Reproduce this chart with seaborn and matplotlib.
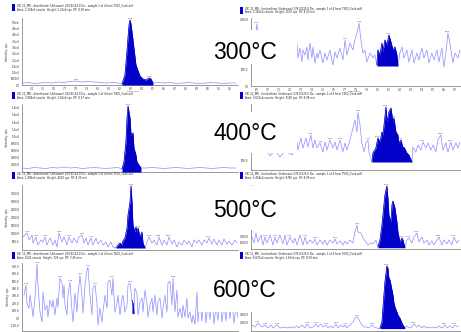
import numpy as np
import pandas as pd
import seaborn as sns
import matplotlib
matplotlib.use("Agg")
import matplotlib.pyplot as plt
from matplotlib.patches import Rectangle
from matplotlib.ticker import FuncFormatter

sns.set_theme(style="white")
plt.rcParams['font.family'] = ['DejaVu Sans']

# ---------------- data (retention time [min], intensity [cps]) ----------------
temps = ["300°C", "400°C", "500°C", "600°C"]

trace_300_left = [(7.31, 1600), (7.365, 2000), (7.419, 1200), (7.474, 1600), (7.528, 2000), (7.583, 1600),
    (7.637, 2400), (7.692, 2000), (7.746, 2800), (7.801, 3200), (7.855, 2400), (7.91, 2800), (7.965, 2400),
    (8.019, 2000), (8.074, 1600), (8.128, 2000), (8.183, 1600), (8.219, 800), (8.246, 8000), (8.265, 28000),
    (8.283, 48000), (8.292, 52000), (8.301, 48800), (8.319, 36000), (8.346, 16000), (8.383, 7200),
    (8.41, 4800), (8.437, 4000), (8.465, 5600), (8.483, 4800), (8.501, 1600), (8.546, 2000), (8.601, 1600),
    (8.655, 2000), (8.71, 1200), (8.765, 1600), (8.819, 2000), (8.874, 1600), (8.928, 1200), (8.983, 1600),
    (9.037, 2000), (9.092, 1600), (9.146, 1200), (9.201, 1600), (9.255, 1600)]

trace_300_right = [(6.859, 1200), (6.886, 1350), (6.904, 1860), (6.923, 1050), (6.95, 1260), (6.986, 1080),
    (7.023, 1320), (7.059, 990), (7.095, 1200), (7.132, 1050), (7.168, 1260), (7.204, 1080), (7.241, 1200),
    (7.268, 1290), (7.277, 840), (7.295, 1140), (7.313, 720), (7.323, 1080), (7.341, 930), (7.359, 1170),
    (7.368, 780), (7.386, 1290), (7.404, 840), (7.414, 1170), (7.432, 690), (7.45, 990), (7.459, 840),
    (7.477, 1080), (7.504, 690), (7.523, 990), (7.541, 780), (7.568, 1080), (7.595, 630), (7.614, 1020),
    (7.632, 840), (7.659, 1140), (7.686, 780), (7.705, 1380), (7.723, 930), (7.75, 1290), (7.777, 1080),
    (7.795, 1380), (7.814, 1590), (7.832, 1890), (7.85, 1380), (7.868, 990), (7.886, 1080), (7.904, 720),
    (7.932, 990), (7.959, 840), (7.977, 930), (7.995, 630), (8.004, 1080), (8.023, 930), (8.041, 1290),
    (8.05, 1020), (8.068, 1380), (8.086, 1230), (8.104, 1530), (8.123, 1320), (8.141, 1080), (8.159, 1170),
    (8.177, 930), (8.186, 600), (8.204, 990), (8.223, 1170), (8.241, 840), (8.268, 1080), (8.286, 720),
    (8.314, 1080), (8.332, 690), (8.359, 990), (8.377, 780), (8.405, 1140), (8.423, 840), (8.45, 1080),
    (8.468, 690), (8.495, 990), (8.514, 780), (8.541, 1080), (8.559, 720), (8.586, 1140), (8.604, 570),
    (8.623, 990), (8.641, 1590), (8.659, 1290), (8.686, 690), (8.705, 990), (8.732, 840), (8.75, 1080)]

trace_400_left = [(7.31, 1120), (7.365, 980), (7.419, 1260), (7.474, 1120), (7.528, 980), (7.583, 1260),
    (7.637, 1120), (7.692, 1400), (7.746, 1120), (7.801, 1260), (7.855, 980), (7.91, 1120), (7.965, 1260),
    (8.019, 1120), (8.074, 980), (8.128, 1120), (8.183, 1260), (8.219, 840), (8.237, 2800), (8.255, 8400),
    (8.265, 15120), (8.274, 18480), (8.292, 15120), (8.301, 10360), (8.319, 10920), (8.328, 6720),
    (8.346, 4760), (8.355, 2800), (8.374, 1960), (8.392, 1120), (8.437, 1120), (8.492, 1260), (8.546, 1120),
    (8.601, 980), (8.655, 1120), (8.71, 1260), (8.765, 1120), (8.819, 980), (8.874, 1120), (8.928, 1260),
    (8.983, 1120), (9.037, 980), (9.092, 1120), (9.146, 1260), (9.201, 1120), (9.255, 1120)]

trace_400_right = [(6.859, 1000), (6.895, 1200), (6.932, 1000), (6.977, 1150), (7.023, 700), (7.068, 1000),
    (7.113, 650), (7.159, 950), (7.223, 750), (7.268, 1400), (7.277, 1000), (7.304, 1600), (7.323, 1100),
    (7.35, 1600), (7.368, 1150), (7.395, 1750), (7.414, 1100), (7.432, 1500), (7.45, 1100), (7.477, 1350),
    (7.504, 900), (7.523, 1400), (7.541, 1000), (7.568, 1500), (7.595, 1100), (7.614, 1400), (7.632, 1000),
    (7.659, 1500), (7.686, 900), (7.705, 1350), (7.723, 1000), (7.75, 1500), (7.777, 2100), (7.795, 2500),
    (7.814, 1900), (7.823, 2900), (7.841, 2250), (7.859, 1350), (7.877, 900), (7.895, 1350), (7.914, 1500),
    (7.923, 900), (7.95, 400), (7.959, 850), (7.986, 1100), (8.004, 1600), (8.023, 1400), (8.041, 1900),
    (8.05, 1750), (8.068, 2650), (8.077, 3150), (8.086, 2400), (8.104, 2900), (8.123, 3100), (8.141, 2400),
    (8.15, 2600), (8.168, 1900), (8.186, 1750), (8.195, 1350), (8.214, 1500), (8.232, 1100), (8.241, 1150),
    (8.268, 850), (8.286, 750), (8.314, 400), (8.323, 1150), (8.35, 900), (8.368, 1250), (8.395, 1000),
    (8.414, 1400), (8.441, 1100), (8.459, 1350), (8.486, 1000), (8.505, 1250), (8.532, 900), (8.55, 1500),
    (8.577, 1750), (8.595, 1000), (8.623, 1350), (8.641, 900), (8.668, 1400), (8.686, 1000), (8.714, 1350),
    (8.732, 1100), (8.75, 1400)]

trace_500_left = [(7.319, 812), (7.355, 1062), (7.374, 625), (7.401, 938), (7.41, 438), (7.437, 812),
    (7.455, 312), (7.483, 625), (7.501, 500), (7.519, 812), (7.537, 312), (7.565, 750), (7.592, 312),
    (7.61, 625), (7.628, 188), (7.646, 1062), (7.674, 500), (7.692, 812), (7.719, 312), (7.737, 812),
    (7.765, 438), (7.783, 750), (7.81, 438), (7.828, 812), (7.855, 938), (7.874, 438), (7.892, 750),
    (7.91, 312), (7.937, 750), (7.955, 312), (7.983, 750), (8.001, 375), (8.028, 625), (8.046, 312),
    (8.074, 500), (8.092, 188), (8.119, 500), (8.137, 188), (8.165, 125), (8.183, 312), (8.201, 438),
    (8.219, 312), (8.228, 562), (8.246, 750), (8.265, 1375), (8.274, 2188), (8.292, 3000), (8.301, 4000),
    (8.31, 3000), (8.319, 1562), (8.337, 1125), (8.346, 1438), (8.355, 1125), (8.365, 1375), (8.383, 812),
    (8.401, 1125), (8.41, 438), (8.428, 125), (8.446, 500), (8.465, 812), (8.492, 438), (8.51, 625),
    (8.537, 312), (8.555, 812), (8.583, 312), (8.601, 625), (8.628, 312), (8.646, 812), (8.674, 375),
    (8.692, 625), (8.719, 188), (8.737, 500), (8.765, 312), (8.783, 625), (8.81, 375), (8.828, 562),
    (8.855, 188), (8.874, 625), (8.901, 438), (8.919, 625), (8.946, 312), (8.965, 625), (8.992, 438),
    (9.01, 750), (9.037, 375), (9.055, 688), (9.083, 312), (9.101, 625), (9.128, 312), (9.146, 688),
    (9.174, 375), (9.192, 562), (9.219, 312), (9.246, 625), (9.265, 438)]

trace_500_right = [(6.859, 1860), (6.877, 930), (6.895, 2480), (6.913, 1085), (6.941, 2170), (6.959, 620),
    (6.977, 1860), (6.995, 930), (7.023, 2170), (7.05, 620), (7.068, 1860), (7.086, 930), (7.113, 2170),
    (7.141, 775), (7.159, 2170), (7.177, 620), (7.204, 1860), (7.232, 930), (7.25, 1705), (7.268, 620),
    (7.295, 2170), (7.323, 620), (7.341, 1860), (7.359, 775), (7.386, 1395), (7.414, 930), (7.432, 1550),
    (7.45, 620), (7.477, 1395), (7.504, 775), (7.523, 1395), (7.541, 620), (7.568, 1395), (7.595, 930),
    (7.614, 1550), (7.632, 775), (7.659, 1240), (7.686, 620), (7.705, 1240), (7.723, 775), (7.75, 1395),
    (7.777, 930), (7.795, 2635), (7.814, 3720), (7.823, 2635), (7.85, 2480), (7.868, 1705), (7.895, 1085),
    (7.914, 620), (7.941, 930), (7.959, 775), (7.986, 1395), (8.004, 310), (8.023, 1395), (8.041, 3720),
    (8.05, 5270), (8.059, 6820), (8.068, 8370), (8.086, 9765), (8.095, 7905), (8.104, 5270), (8.123, 4185),
    (8.132, 6820), (8.141, 7440), (8.159, 6355), (8.177, 4185), (8.186, 2635), (8.204, 1085), (8.223, 1705),
    (8.232, 1395), (8.25, 155), (8.268, 1395), (8.286, 1705), (8.314, 930), (8.332, 1860), (8.359, 2480),
    (8.377, 1085), (8.405, 1860), (8.423, 930), (8.45, 1395), (8.468, 620), (8.495, 1240), (8.514, 620),
    (8.541, 1395), (8.559, 1860), (8.586, 620), (8.604, 1395), (8.632, 775), (8.65, 1395), (8.677, 620),
    (8.695, 1860), (8.723, 930), (8.741, 1395)]

trace_600_left = [(7.328, 310), (7.346, 446), (7.355, 202), (7.374, 135), (7.383, 310), (7.401, 135),
    (7.41, 14), (7.428, 270), (7.446, 729), (7.455, 446), (7.474, 81), (7.492, -54), (7.501, 351),
    (7.519, 108), (7.537, 176), (7.546, 14), (7.565, 243), (7.583, 149), (7.592, 243), (7.61, 41),
    (7.628, 270), (7.637, 149), (7.655, 540), (7.674, 472), (7.683, 270), (7.692, 446), (7.701, 176),
    (7.719, 41), (7.728, 310), (7.746, 486), (7.765, 81), (7.774, -54), (7.792, 338), (7.81, 81),
    (7.819, 310), (7.837, 580), (7.855, 310), (7.865, 68), (7.883, 446), (7.901, 648), (7.91, 688),
    (7.928, 310), (7.946, 41), (7.955, 405), (7.974, 446), (7.992, 202), (8.001, -94), (8.019, 135),
    (8.037, -54), (8.046, 81), (8.065, 310), (8.083, 135), (8.092, 486), (8.11, 513), (8.128, 310),
    (8.137, 540), (8.155, 81), (8.174, 202), (8.183, 310), (8.201, 41), (8.219, 270), (8.228, 310),
    (8.246, 81), (8.265, 176), (8.274, 446), (8.292, 472), (8.31, 243), (8.319, 202), (8.328, 81),
    (8.337, 405), (8.355, 338), (8.365, 41), (8.383, 216), (8.401, 270), (8.41, 81), (8.428, 378),
    (8.446, 202), (8.455, 14), (8.474, 176), (8.492, 270), (8.501, 81), (8.519, 310), (8.537, 41),
    (8.546, 216), (8.565, 270), (8.583, 0), (8.592, 135), (8.61, 310), (8.628, 81), (8.637, 472),
    (8.655, 500), (8.674, 176), (8.683, 540), (8.701, 81), (8.719, 378), (8.728, 14), (8.746, 135),
    (8.765, 0), (8.774, 176), (8.792, 14), (8.81, 270), (8.819, 0), (8.837, 81), (8.855, -68),
    (8.865, 41), (8.883, -81), (8.901, 351), (8.91, -54), (8.928, 250), (8.946, -40), (8.965, 300),
    (8.983, -70), (9.001, 200), (9.019, -20), (9.037, 350), (9.055, -80), (9.074, 150), (9.092, -30),
    (9.11, 280), (9.128, -60), (9.146, 180), (9.165, -40), (9.183, 320), (9.201, -10), (9.219, 250),
    (9.237, -70), (9.255, 150), (9.274, 0)]

trace_600_right = [(6.859, 1500), (6.886, 1000), (6.913, 2000), (6.95, 1000), (6.977, 1500), (7.004, 750),
    (7.032, 1500), (7.05, 750), (7.086, 1500), (7.113, 750), (7.141, 1000), (7.177, 750), (7.204, 1000),
    (7.232, 750), (7.268, 1250), (7.286, 750), (7.313, 1500), (7.341, 750), (7.359, 1750), (7.386, 750),
    (7.414, 1000), (7.441, 1750), (7.459, 1000), (7.486, 1750), (7.504, 1000), (7.532, 1500), (7.55, 750),
    (7.577, 1250), (7.595, 750), (7.623, 1750), (7.641, 750), (7.668, 1500), (7.686, 1000), (7.705, 1500),
    (7.723, 750), (7.75, 1500), (7.777, 2250), (7.795, 3250), (7.814, 3500), (7.832, 2750), (7.859, 1500),
    (7.877, 1000), (7.904, 1000), (7.923, 750), (7.95, 1500), (7.968, 1000), (7.995, 750), (8.014, 500),
    (8.023, 750), (8.041, 2250), (8.05, 5750), (8.059, 9000), (8.068, 12250), (8.086, 16250),
    (8.095, 15750), (8.104, 13250), (8.114, 12750), (8.123, 11500), (8.141, 9000), (8.15, 7000),
    (8.159, 6000), (8.177, 4750), (8.186, 4000), (8.204, 3250), (8.223, 2000), (8.232, 1500), (8.25, 750),
    (8.268, 1250), (8.286, 750), (8.314, 1000), (8.332, 1750), (8.359, 1000), (8.377, 1500), (8.405, 750),
    (8.423, 1250), (8.45, 750), (8.468, 1000), (8.495, 750), (8.514, 1000), (8.541, 750), (8.559, 1250),
    (8.586, 750), (8.614, 1500), (8.632, 750), (8.659, 1250), (8.686, 750), (8.705, 1500), (8.732, 1000)]

# integrated peak windows (start, end) and their baselines
peak_windows = [(8.219, 8.501), (7.995, 8.186), (8.219, 8.392), (7.95, 8.314),
                (8.165, 8.428), (8.004, 8.25), (8.301, 8.328), (8.023, 8.25)]
peak_bases = [0, 600, 0, 400, 125, 200, 60, 600]

ylims = [(0, 53600), (0, 2040), (0, 19040), (0, 3300), (0, 4062), (0, 9920), (-175, 745), (0, 16750)]
ytick_sets = [list(range(0, 50001, 5000)), list(range(0, 2001, 500)), list(range(2000, 18001, 2000)),
              list(range(500, 3001, 500)), list(range(500, 3501, 500)), list(range(1000, 9001, 1000)),
              list(range(-100, 701, 100)), list(range(2000, 16001, 2000))]
label_thresholds = [3000, 1300, 1500, 1300, 700, 1500, 380, 1400]

left_xticks = [7.4, 7.5, 7.6, 7.7, 7.8, 7.9, 8.0, 8.1, 8.2, 8.3, 8.4, 8.5, 8.6, 8.7, 8.8, 8.9, 9.0, 9.1, 9.2]
right_xticks = [6.9, 7.0, 7.1, 7.2, 7.3, 7.4, 7.5, 7.6, 7.7, 7.8, 7.9, 8.0, 8.1, 8.2, 8.3, 8.4, 8.5, 8.6, 8.7]

header_left = ["XIC 12_MR - dimethoate (Unknown) 229.9/124.9 Da - sample 1 of 4 from T{}_Cook.wiff",
               "Area: {} counts  Height: {} cps  RT: {} min"]
header_right = ["XIC 12_MR - fenitrothion (Unknown) 278.0/125.0 Da - sample 1 of 4 from T{}_Cook.wiff",
                "Area: {} counts  Height: {} cps  RT: {} min"]
header_stats = [("2.158e5", "5.20e4", "8.29"), ("1.262e4", "1530", "8.10"),
                ("7.884e4", "1.85e4", "8.27"), ("3.021e4", "3150", "8.08"),
                ("1.496e4", "4000", "8.30"), ("4.458e4", "9765", "8.09"),
                ("1624", "729", "7.45"), ("6.872e4", "1.63e4", "8.09")]

traces = [trace_300_left, trace_300_right, trace_400_left, trace_400_right,
          trace_500_left, trace_500_right, trace_600_left, trace_600_right]

# ---------------- layout (pixels) ----------------
W, H = 461, 332
TRACE = '#8c8cff'
PEAK = '#0000c8'
AXC = '#606060'
axes_px = [(22, 18, 238, 85), (251, 18, 461, 86), (22, 104, 238, 172), (251, 104, 461, 170),
           (22, 185, 238, 250), (251, 185, 461, 249), (22, 263, 238, 331), (251, 264, 461, 331)]
header_y = [(4, 6, 10), (7, 9, 12.5), (92, 94.0, 97.8), (92.5, 94.5, 98.2),
            (172, 174.3, 178), (172, 174.3, 178), (252, 253.8, 257.6), (252, 253.8, 257.6)]
xlabel_y = [91.2, 91.8]
box_px = [(198, 30, 297, 64), (198, 112, 297, 153), (198, 186, 297, 230), (198, 263, 297, 312)]
text_baseline = [59, 140, 217, 297]

fig = plt.figure(figsize=(W / 100, H / 100), dpi=100)


def fmt(v, pos=None):
    if abs(v) >= 1e4:
        m, e = f"{v:.1e}".split("e")
        return f"{m}e{int(e)}"
    return f"{v:.1f}"


def in_box(px, py, r, margin=2):
    bx0, by0, bx1, by1 = box_px[r]
    return (bx0 - margin) <= px <= (bx1 + margin) and (by0 - margin) <= py <= (by1 + margin)


for i, pts in enumerate(traces):
    x0, y0, x1, y1 = axes_px[i]
    r = i // 2
    left = (i % 2 == 0)
    xlim = (7.31, 9.274) if left else (6.85, 8.76)
    ylim = ylims[i]

    def to_px(t, v):
        px = x0 + (t - xlim[0]) / (xlim[1] - xlim[0]) * (x1 - x0)
        py = y1 - (v - ylim[0]) / (ylim[1] - ylim[0]) * (y1 - y0)
        return px, py

    ax = fig.add_axes([x0 / W, 1 - y1 / H, (x1 - x0) / W, (y1 - y0) / H])
    ax.set_facecolor('none')
    df = pd.DataFrame(pts, columns=["t", "v"])
    sns.lineplot(data=df, x="t", y="v", ax=ax, color=TRACE, linewidth=0.5,
                 estimator=None, sort=False, zorder=2)
    w0, w1 = peak_windows[i]
    m = (df.t >= w0) & (df.t <= w1)
    ax.fill_between(df.t[m], df.v[m], peak_bases[i], color=PEAK, linewidth=0, zorder=3)
    ax.plot(df.t[m], df.v[m], color=PEAK, linewidth=0.5, zorder=3)

    ax.set_xlim(*xlim)
    ax.set_ylim(*ylim)
    ax.set_xticks(left_xticks if left else right_xticks)
    # ticks of the right-hand panels that sit under the white label box are not drawn
    yt = [v for v in ytick_sets[i] if left or not in_box(x0 - 6, to_px(xlim[0], v)[1], r)]
    ax.set_yticks(yt)
    ax.yaxis.set_major_formatter(FuncFormatter(fmt))
    ax.xaxis.set_major_formatter(FuncFormatter(lambda v, p: f"{v:.1f}"))
    ax.tick_params(axis='y', length=1.2, width=0.35, pad=0.5, labelsize=2.0,
                   colors='#333333', direction='out')
    ax.tick_params(axis='x', length=1.0, width=0.35, pad=0.3, labelsize=1.8,
                   colors='#333333', direction='out', labelbottom=(i < 2))
    for s in ['top', 'right']:
        ax.spines[s].set_visible(False)
    for s in ['left', 'bottom']:
        ax.spines[s].set_color(AXC)
        ax.spines[s].set_linewidth(0.45)
    ax.set_xlabel("")
    ax.set_ylabel("Intensity, cps" if left else "", fontsize=2.0, labelpad=1.0, color='#333333')
    if i < 2:
        fig.text((133 if left else 354) / W, 1 - xlabel_y[i] / H, "Time, min", fontsize=1.6,
                 ha='center', va='center', color='#333333')

    # apex labels on local maxima (those hidden under the label box are skipped)
    tv = df.t.values
    vv = df.v.values
    cand = [k for k in range(1, len(vv) - 1) if vv[k] > vv[k - 1] and vv[k] >= vv[k + 1]
            and vv[k] >= label_thresholds[i]]
    cand.sort(key=lambda k: -vv[k])
    kept = []
    for k in cand:
        px, py = to_px(tv[k], vv[k])
        if in_box(px, py - 2, r, margin=4):
            continue
        if all(abs(tv[k] - tv[j]) > 0.06 for j in kept):
            kept.append(k)
    for k in kept:
        ax.annotate(f"{tv[k]:.2f}", (tv[k], vv[k]), xytext=(0, 0.8), textcoords='offset points',
                    ha='center', va='bottom', fontsize=1.7, color='#444444', zorder=4)

    # header
    hy_sq, hy1, hy2 = header_y[i]
    hx = 12 if left else 240
    fig.add_artist(Rectangle((hx / W, 1 - (hy_sq + 7) / H), 3 / W, 7 / H, transform=fig.transFigure,
                             facecolor=PEAK, edgecolor='none', zorder=5))
    hdr = header_left if left else header_right
    tname = temps[r].replace("°C", "")
    a, h, rt = header_stats[i]
    fig.text((hx + 5) / W, 1 - hy1 / H, hdr[0].format(tname), fontsize=1.9, va='center', ha='left',
             color='#222222', zorder=5)
    fig.text((hx + 5) / W, 1 - hy2 / H, hdr[1].format(a, h, rt), fontsize=1.9, va='center', ha='left',
             color='#222222', zorder=5)

# temperature labels on white boxes
for r, lab in enumerate(temps):
    bx0, by0, bx1, by1 = box_px[r]
    fig.add_artist(Rectangle((bx0 / W, 1 - by1 / H), (bx1 - bx0) / W, (by1 - by0) / H,
                             transform=fig.transFigure, facecolor='white', edgecolor='none', zorder=6))
    fig.text(245 / W, 1 - text_baseline[r] / H, lab, fontsize=16.5, ha='center', va='baseline',
             color='black', family=['Liberation Sans', 'DejaVu Sans'], zorder=7)

fig.savefig("out.png", dpi=100, facecolor='white')
